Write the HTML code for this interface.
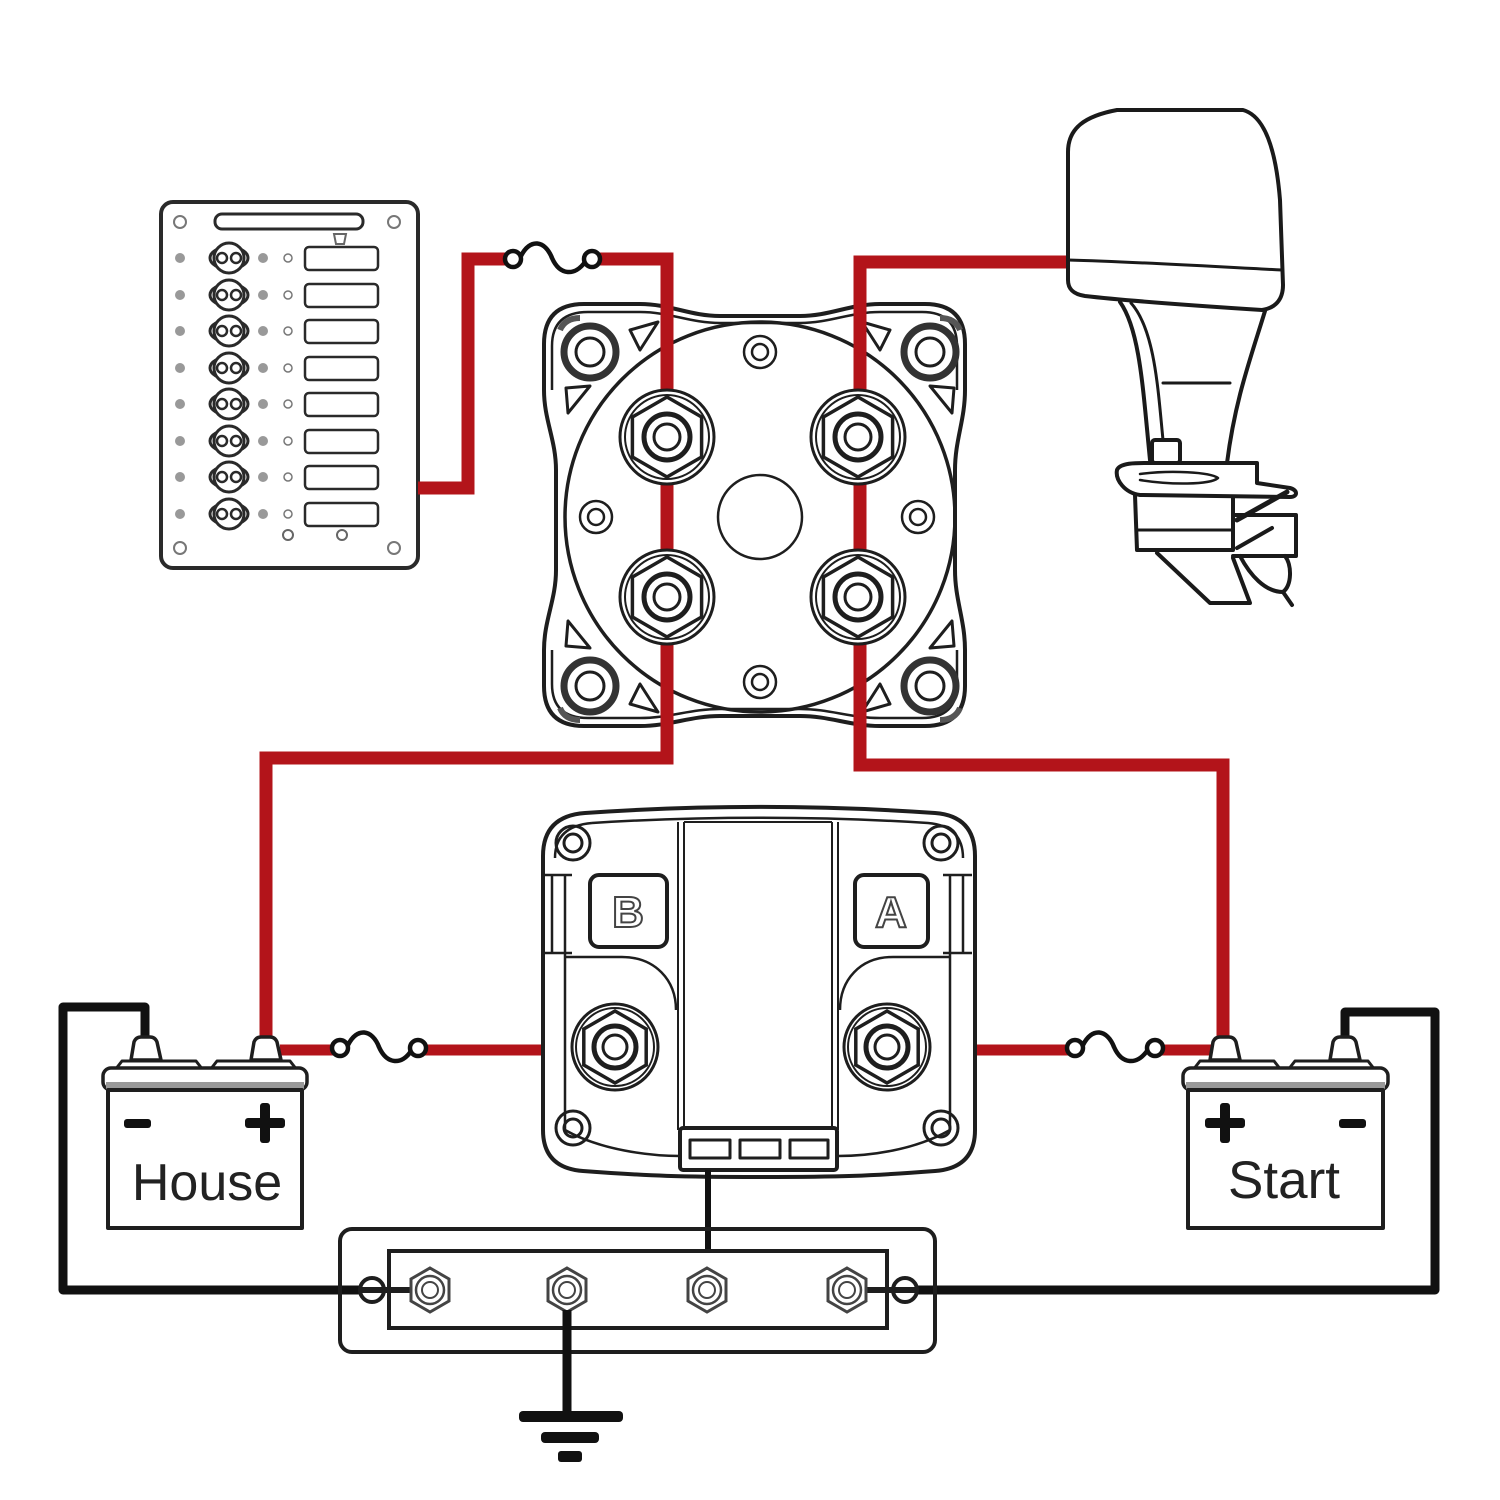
<!DOCTYPE html>
<html><head><meta charset="utf-8"><style>
html,body{margin:0;padding:0;background:#fff;width:1500px;height:1500px;overflow:hidden}
svg{display:block}
</style></head><body>
<svg width="1500" height="1500" viewBox="0 0 1500 1500" xmlns="http://www.w3.org/2000/svg">
<rect width="1500" height="1500" fill="#fff"/>

<!-- ===== Breaker panel ===== -->
<g stroke="#2a2a2a" fill="none">
<rect x="161" y="202" width="257" height="366" rx="12" stroke-width="4" fill="#fff"/>
<rect x="215" y="214" width="148" height="15" rx="7" stroke-width="3"/>
<circle cx="180" cy="222" r="6" stroke-width="2" stroke="#777"/>
<circle cx="394" cy="222" r="6" stroke-width="2" stroke="#777"/>
<circle cx="180" cy="548" r="6" stroke-width="2" stroke="#777"/>
<circle cx="394" cy="548" r="6" stroke-width="2" stroke="#777"/>
<path d="M334,234 L346,234 L344,244 L336,244 Z" stroke-width="2" stroke="#666"/>
<circle cx="288" cy="535" r="5" stroke-width="2" stroke="#666"/>
<circle cx="342" cy="535" r="5" stroke-width="2" stroke="#666"/>
</g>
<g stroke="#2a2a2a" fill="none">
<g transform="translate(0,258)"><circle cx="180" cy="0" r="5" fill="#999" stroke="none"/><ellipse cx="229" cy="0" rx="19" ry="11" stroke-width="3" fill="#fff"/><circle cx="229" cy="0" r="15" stroke-width="3" fill="#fff"/><circle cx="222" cy="0" r="5" stroke-width="2.5"/><circle cx="236" cy="0" r="5" stroke-width="2.5"/><circle cx="263" cy="0" r="5" fill="#999" stroke="none"/><circle cx="288" cy="0" r="4" stroke-width="1.5" stroke="#777"/><rect x="305" y="-11" width="73" height="23" rx="4" stroke-width="2.5"/></g>
<g transform="translate(0,295)"><circle cx="180" cy="0" r="5" fill="#999" stroke="none"/><ellipse cx="229" cy="0" rx="19" ry="11" stroke-width="3" fill="#fff"/><circle cx="229" cy="0" r="15" stroke-width="3" fill="#fff"/><circle cx="222" cy="0" r="5" stroke-width="2.5"/><circle cx="236" cy="0" r="5" stroke-width="2.5"/><circle cx="263" cy="0" r="5" fill="#999" stroke="none"/><circle cx="288" cy="0" r="4" stroke-width="1.5" stroke="#777"/><rect x="305" y="-11" width="73" height="23" rx="4" stroke-width="2.5"/></g>
<g transform="translate(0,331)"><circle cx="180" cy="0" r="5" fill="#999" stroke="none"/><ellipse cx="229" cy="0" rx="19" ry="11" stroke-width="3" fill="#fff"/><circle cx="229" cy="0" r="15" stroke-width="3" fill="#fff"/><circle cx="222" cy="0" r="5" stroke-width="2.5"/><circle cx="236" cy="0" r="5" stroke-width="2.5"/><circle cx="263" cy="0" r="5" fill="#999" stroke="none"/><circle cx="288" cy="0" r="4" stroke-width="1.5" stroke="#777"/><rect x="305" y="-11" width="73" height="23" rx="4" stroke-width="2.5"/></g>
<g transform="translate(0,368)"><circle cx="180" cy="0" r="5" fill="#999" stroke="none"/><ellipse cx="229" cy="0" rx="19" ry="11" stroke-width="3" fill="#fff"/><circle cx="229" cy="0" r="15" stroke-width="3" fill="#fff"/><circle cx="222" cy="0" r="5" stroke-width="2.5"/><circle cx="236" cy="0" r="5" stroke-width="2.5"/><circle cx="263" cy="0" r="5" fill="#999" stroke="none"/><circle cx="288" cy="0" r="4" stroke-width="1.5" stroke="#777"/><rect x="305" y="-11" width="73" height="23" rx="4" stroke-width="2.5"/></g>
<g transform="translate(0,404)"><circle cx="180" cy="0" r="5" fill="#999" stroke="none"/><ellipse cx="229" cy="0" rx="19" ry="11" stroke-width="3" fill="#fff"/><circle cx="229" cy="0" r="15" stroke-width="3" fill="#fff"/><circle cx="222" cy="0" r="5" stroke-width="2.5"/><circle cx="236" cy="0" r="5" stroke-width="2.5"/><circle cx="263" cy="0" r="5" fill="#999" stroke="none"/><circle cx="288" cy="0" r="4" stroke-width="1.5" stroke="#777"/><rect x="305" y="-11" width="73" height="23" rx="4" stroke-width="2.5"/></g>
<g transform="translate(0,441)"><circle cx="180" cy="0" r="5" fill="#999" stroke="none"/><ellipse cx="229" cy="0" rx="19" ry="11" stroke-width="3" fill="#fff"/><circle cx="229" cy="0" r="15" stroke-width="3" fill="#fff"/><circle cx="222" cy="0" r="5" stroke-width="2.5"/><circle cx="236" cy="0" r="5" stroke-width="2.5"/><circle cx="263" cy="0" r="5" fill="#999" stroke="none"/><circle cx="288" cy="0" r="4" stroke-width="1.5" stroke="#777"/><rect x="305" y="-11" width="73" height="23" rx="4" stroke-width="2.5"/></g>
<g transform="translate(0,477)"><circle cx="180" cy="0" r="5" fill="#999" stroke="none"/><ellipse cx="229" cy="0" rx="19" ry="11" stroke-width="3" fill="#fff"/><circle cx="229" cy="0" r="15" stroke-width="3" fill="#fff"/><circle cx="222" cy="0" r="5" stroke-width="2.5"/><circle cx="236" cy="0" r="5" stroke-width="2.5"/><circle cx="263" cy="0" r="5" fill="#999" stroke="none"/><circle cx="288" cy="0" r="4" stroke-width="1.5" stroke="#777"/><rect x="305" y="-11" width="73" height="23" rx="4" stroke-width="2.5"/></g>
<g transform="translate(0,514)"><circle cx="180" cy="0" r="5" fill="#999" stroke="none"/><ellipse cx="229" cy="0" rx="19" ry="11" stroke-width="3" fill="#fff"/><circle cx="229" cy="0" r="15" stroke-width="3" fill="#fff"/><circle cx="222" cy="0" r="5" stroke-width="2.5"/><circle cx="236" cy="0" r="5" stroke-width="2.5"/><circle cx="263" cy="0" r="5" fill="#999" stroke="none"/><circle cx="288" cy="0" r="4" stroke-width="1.5" stroke="#777"/><rect x="305" y="-11" width="73" height="23" rx="4" stroke-width="2.5"/></g>
</g>

<!-- ===== Battery switch body ===== -->
<g stroke="#1e1e1e" fill="none" stroke-linejoin="round">
<path d="M584,304 L640,304 C670,304 690,316 720,316 L800,316 C830,316 850,304 880,304 L925,304 Q965,304 965,344 L965,390 C965,420 955,440 955,470 L955,570 C955,600 965,620 965,650 L965,686 Q965,726 925,726 L880,726 C850,726 830,716 800,716 L720,716 C690,716 670,726 640,726 L584,726 Q544,726 544,686 L544,650 C544,620 556,600 556,570 L556,470 C556,440 544,420 544,390 L544,344 Q544,304 584,304 Z" stroke-width="4" fill="#fff"/>
<path d="M588,312 L640,312 C670,312 690,323 720,323 L800,323 C830,323 850,312 880,312 L922,312 Q957,312 957,346 L957,390" stroke-width="2.5"/>
<path d="M552,390 L552,346 Q552,312 588,312" stroke-width="2.5"/>
<path d="M588,718 L640,718 C670,718 690,709 720,709 L800,709 C830,709 850,718 880,718 L922,718 Q957,718 957,684 L957,650" stroke-width="2.5"/>
<path d="M552,650 L552,684 Q552,718 588,718" stroke-width="2.5"/>
<circle cx="760" cy="517" r="195" stroke-width="3.5"/>
<path d="M630,330 L658,322 L640,350 Z" stroke-width="3"/>
<path d="M566,388 L590,386 L568,413 Z" stroke-width="3"/>
<path d="M890,330 L862,322 L880,350 Z" stroke-width="3"/>
<path d="M954,388 L930,386 L952,413 Z" stroke-width="3"/>
<path d="M630,704 L658,712 L640,684 Z" stroke-width="3"/>
<path d="M566,646 L590,648 L568,621 Z" stroke-width="3"/>
<path d="M890,704 L862,712 L880,684 Z" stroke-width="3"/>
<path d="M954,646 L930,648 L952,621 Z" stroke-width="3"/>
<g stroke-width="7" stroke="#333"><circle cx="590" cy="352" r="26"/><circle cx="930" cy="352" r="26"/><circle cx="590" cy="686" r="26"/><circle cx="930" cy="686" r="26"/></g>
<g stroke-width="2" stroke="#fff"><circle cx="590" cy="352" r="21"/><circle cx="930" cy="352" r="21"/><circle cx="590" cy="686" r="21"/><circle cx="930" cy="686" r="21"/></g>
<g stroke-width="3"><circle cx="590" cy="352" r="14"/><circle cx="930" cy="352" r="14"/><circle cx="590" cy="686" r="14"/><circle cx="930" cy="686" r="14"/></g>
<g stroke="#555" stroke-width="6"><path d="M560,330 Q565,318 580,318"/><path d="M960,330 Q955,318 940,318"/><path d="M560,708 Q565,720 580,720"/><path d="M960,708 Q955,720 940,720"/></g>
<g stroke-width="2.5"><circle cx="760" cy="352" r="16"/><circle cx="760" cy="682" r="16"/><circle cx="596" cy="517" r="16"/><circle cx="918" cy="517" r="16"/></g>
<g stroke-width="2.5"><circle cx="760" cy="352" r="8"/><circle cx="760" cy="682" r="8"/><circle cx="596" cy="517" r="8"/><circle cx="918" cy="517" r="8"/></g>
<circle cx="760" cy="517" r="42" stroke-width="2.5"/>
</g>

<!-- ===== Red wires ===== -->
<g stroke="#b3141a" fill="none" stroke-width="13" stroke-linejoin="miter">
<path d="M418,488 L468,488 L468,259 L506,259"/>
<path d="M599,259 L667,259 L667,758 L266,758 L266,1040"/>
<path d="M1068,262 L860,262 L860,765 L1223,765 L1223,1040"/>
</g>
<g stroke="#b3141a" fill="none" stroke-width="11">
<path d="M280,1050 L333,1050"/>
<path d="M425,1050 L590,1050"/>
<path d="M930,1050 L1068,1050"/>
<path d="M1162,1050 L1218,1050"/>
</g>

<g stroke="#1e1e1e" fill="#fff">
<g transform="translate(667,437)"><circle r="47" stroke-width="3"/><circle r="42" stroke-width="2" fill="none"/><polygon points="0,-40 34.6,-20 34.6,20 0,40 -34.6,20 -34.6,-20" stroke-width="3.5"/><circle r="23" stroke-width="5"/><circle r="13" stroke-width="3"/></g>
<g transform="translate(858,437)"><circle r="47" stroke-width="3"/><circle r="42" stroke-width="2" fill="none"/><polygon points="0,-40 34.6,-20 34.6,20 0,40 -34.6,20 -34.6,-20" stroke-width="3.5"/><circle r="23" stroke-width="5"/><circle r="13" stroke-width="3"/></g>
<g transform="translate(667,597)"><circle r="47" stroke-width="3"/><circle r="42" stroke-width="2" fill="none"/><polygon points="0,-40 34.6,-20 34.6,20 0,40 -34.6,20 -34.6,-20" stroke-width="3.5"/><circle r="23" stroke-width="5"/><circle r="13" stroke-width="3"/></g>
<g transform="translate(858,597)"><circle r="47" stroke-width="3"/><circle r="42" stroke-width="2" fill="none"/><polygon points="0,-40 34.6,-20 34.6,20 0,40 -34.6,20 -34.6,-20" stroke-width="3.5"/><circle r="23" stroke-width="5"/><circle r="13" stroke-width="3"/></g>
</g>

<!-- ===== Fuses ===== -->
<g stroke="#111" fill="#fff" stroke-width="4.5">
<circle cx="513" cy="259" r="8"/><circle cx="592" cy="259" r="8"/>
<path d="M521,256 C530,238 545,240 552,258 C560,276 575,276 585,262" fill="none"/>
<circle cx="340" cy="1048" r="8"/><circle cx="418" cy="1048" r="8"/>
<path d="M348,1045 C357,1027 372,1029 379,1047 C387,1065 402,1065 411,1051" fill="none"/>
<circle cx="1075" cy="1048" r="8"/><circle cx="1155" cy="1048" r="8"/>
<path d="M1083,1045 C1092,1027 1107,1029 1114,1047 C1122,1065 1137,1065 1147,1051" fill="none"/>
</g>

<!-- ===== Outboard motor ===== -->
<g stroke="#1a1a1a" fill="none" stroke-width="4" stroke-linejoin="round" stroke-linecap="round">
<path d="M1068,152 C1068,128 1085,116 1117,110 L1243,110 C1265,116 1276,150 1280,200 L1283,285 C1283,300 1275,308 1262,310 C1200,306 1120,300 1085,296 C1072,294 1068,288 1068,280 Z" fill="#fff"/>
<path d="M1068,260 C1140,262 1220,267 1282,270" stroke-width="3"/>
<path d="M1120,302 C1140,330 1143,390 1150,460"/>
<path d="M1131,303 C1155,330 1158,390 1163,440" stroke-width="3"/>
<path d="M1265,311 C1250,360 1235,400 1227,463"/>
<path d="M1163,383 L1230,383" stroke-width="3"/>
<rect x="1152" y="440" width="28" height="23" rx="3"/>
<path d="M1117,470 C1120,462 1140,463 1150,463 L1257,463 L1257,483 L1290,488 C1298,490 1298,497 1290,497 L1140,495 C1125,493 1115,480 1117,470 Z"/>
<path d="M1140,474 C1170,470 1210,472 1218,478 C1210,485 1170,485 1140,480" stroke-width="2.5"/>
<path d="M1135,495 L1137,550 L1233,550 L1233,497"/>
<path d="M1137,530 L1233,530" stroke-width="3"/>
<path d="M1157,553 L1210,603 L1250,603 L1233,558"/>
<path d="M1233,515 L1296,515 L1296,556 L1233,556"/>
<path d="M1237,520 L1287,492" stroke-width="5"/>
<path d="M1237,548 L1272,528"/>
<path d="M1240,556 C1250,575 1265,592 1283,592 C1292,585 1292,565 1285,556"/>
<path d="M1283,592 L1292,605"/>
</g>

<!-- ===== ACR (B/A) ===== -->
<g stroke="#1e1e1e" fill="none" stroke-linejoin="round">
<path d="M585,813 C700,805 820,805 935,813 Q975,816 975,856 L975,1130 Q975,1168 935,1171 C870,1176 840,1177 760,1177 C680,1177 650,1176 583,1171 Q543,1168 543,1130 L543,856 Q543,816 585,813 Z" stroke-width="4" fill="#fff"/>
<path d="M592,823 C700,816 820,816 928,823 Q963,826 963,858" stroke-width="2.5"/>
<path d="M555,858 Q555,826 592,823" stroke-width="2.5"/>
<path d="M678,822 L678,1130 M684,822 L684,1130 M832,822 L832,1130 M838,822 L838,1130" stroke-width="2"/>
<path d="M684,822 L832,822" stroke-width="2"/>
<path d="M552,875 L552,953 M565,875 L565,1130 M543,875 L572,875 M543,953 L572,953" stroke-width="2.5"/>
<path d="M963,875 L963,953 M950,875 L950,1130 M972,875 L943,875 M972,953 L943,953" stroke-width="2.5"/>
<path d="M565,957 L622,957 C655,957 676,980 676,1010" stroke-width="2.5"/>
<path d="M950,957 L893,957 C860,957 840,980 840,1010" stroke-width="2.5"/>
<path d="M565,1130 C600,1150 650,1156 680,1156 M838,1156 C870,1156 915,1150 950,1130" stroke-width="2.5"/>
<g stroke-width="3"><circle cx="573" cy="843" r="17"/><circle cx="941" cy="843" r="17"/><circle cx="573" cy="1128" r="17"/><circle cx="941" cy="1128" r="17"/></g>
<g stroke-width="3"><circle cx="573" cy="843" r="9"/><circle cx="941" cy="843" r="9"/><circle cx="573" cy="1128" r="9"/><circle cx="941" cy="1128" r="9"/></g>
<rect x="590" y="875" width="77" height="72" rx="9" stroke-width="4" fill="#fff"/>
<rect x="855" y="875" width="73" height="72" rx="9" stroke-width="4" fill="#fff"/>
<rect x="680" y="1128" width="157" height="42" rx="3" stroke-width="4" fill="#fff"/>
<rect x="690" y="1140" width="40" height="18" stroke-width="3"/>
<rect x="740" y="1140" width="40" height="18" stroke-width="3"/>
<rect x="790" y="1140" width="38" height="18" stroke-width="3"/>
</g>
<text x="628" y="927" text-anchor="middle" font-family="Liberation Sans, sans-serif" font-weight="bold" font-size="44" fill="#fff" stroke="#444" stroke-width="2">B</text>
<text x="891" y="927" text-anchor="middle" font-family="Liberation Sans, sans-serif" font-weight="bold" font-size="44" fill="#fff" stroke="#444" stroke-width="2">A</text>
<g stroke="#1e1e1e" fill="#fff">
<g transform="translate(615,1047)"><circle r="43" stroke-width="3"/><circle r="39" stroke-width="2" fill="none"/><polygon points="0,-36 31.2,-18 31.2,18 0,36 -31.2,18 -31.2,-18" stroke-width="3.5"/><circle r="21" stroke-width="5"/><circle r="12" stroke-width="3"/></g>
<g transform="translate(887,1047)"><circle r="43" stroke-width="3"/><circle r="39" stroke-width="2" fill="none"/><polygon points="0,-36 31.2,-18 31.2,18 0,36 -31.2,18 -31.2,-18" stroke-width="3.5"/><circle r="21" stroke-width="5"/><circle r="12" stroke-width="3"/></g>
</g>

<!-- ===== Black wires ===== -->
<g stroke="#111" fill="none" stroke-width="9" stroke-linejoin="round">
<path d="M145,1040 L145,1007 L63,1007 L63,1290 L372,1290"/>
<path d="M1345,1040 L1345,1012 L1435,1012 L1435,1290 L905,1290"/>
<path d="M708,1170 L708,1275" stroke-width="6"/>
</g>

<!-- ===== Busbar ===== -->
<g stroke="#1e1e1e" fill="none">
<rect x="340" y="1229" width="595" height="123" rx="12" stroke-width="4"/>
<rect x="389" y="1251" width="498" height="77" stroke-width="4" fill="#fff"/>
<circle cx="372" cy="1290" r="12" stroke-width="4" fill="#fff"/>
<circle cx="905" cy="1290" r="12" stroke-width="4" fill="#fff"/>
<path d="M362,1290 L410,1290 M865,1290 L915,1290" stroke-width="6"/>
<g stroke="#444">
<g transform="translate(430,1290)"><polygon points="0,-22 19,-11 19,11 0,22 -19,11 -19,-11" stroke-width="3" fill="#fff"/><circle r="14" stroke-width="2.5"/><circle r="8" stroke-width="2"/></g>
<g transform="translate(567,1290)"><polygon points="0,-22 19,-11 19,11 0,22 -19,11 -19,-11" stroke-width="3" fill="#fff"/><circle r="14" stroke-width="2.5"/><circle r="8" stroke-width="2"/></g>
<g transform="translate(707,1290)"><polygon points="0,-22 19,-11 19,11 0,22 -19,11 -19,-11" stroke-width="3" fill="#fff"/><circle r="14" stroke-width="2.5"/><circle r="8" stroke-width="2"/></g>
<g transform="translate(847,1290)"><polygon points="0,-22 19,-11 19,11 0,22 -19,11 -19,-11" stroke-width="3" fill="#fff"/><circle r="14" stroke-width="2.5"/><circle r="8" stroke-width="2"/></g>
</g>
</g>
<path d="M567,1310 L567,1415" stroke="#111" stroke-width="9"/>
<g fill="#111">
<rect x="519" y="1411" width="104" height="11" rx="4"/>
<rect x="541" y="1432" width="58" height="11" rx="4"/>
<rect x="558" y="1451" width="24" height="11" rx="3"/>
</g>

<!-- ===== House battery ===== -->
<g stroke="#1e1e1e" fill="#fff" stroke-linejoin="round">
<path d="M131,1060 L134,1042 Q136,1037 141,1037 L150,1037 Q155,1037 157,1042 L161,1060 Z" stroke-width="3.5"/>
<path d="M251,1060 L254,1042 Q256,1037 261,1037 L270,1037 Q275,1037 277,1042 L281,1060 Z" stroke-width="3.5"/>
<path d="M115,1070 L122,1061 L196,1061 L203,1070 Z M210,1070 L217,1061 L290,1061 L297,1070 Z" stroke-width="3"/>
<rect x="103" y="1068" width="204" height="22" rx="8" stroke-width="3.5"/>
<rect x="106" y="1082" width="198" height="8" fill="#999" stroke="none"/>
<rect x="108" y="1090" width="194" height="138" stroke-width="4"/>
</g>
<g fill="#111">
<rect x="124" y="1119" width="27" height="9" rx="3"/>
<rect x="245" y="1118" width="40" height="10" rx="3"/>
<rect x="260" y="1103" width="10" height="40" rx="3"/>
</g>
<text x="207" y="1200" text-anchor="middle" font-family="Liberation Sans, DejaVu Sans, sans-serif" font-size="52" fill="#222">House</text>

<!-- ===== Start battery ===== -->
<g stroke="#1e1e1e" fill="#fff" stroke-linejoin="round">
<path d="M1210,1060 L1213,1042 Q1215,1037 1220,1037 L1229,1037 Q1234,1037 1236,1042 L1240,1060 Z" stroke-width="3.5"/>
<path d="M1330,1060 L1333,1042 Q1335,1037 1340,1037 L1349,1037 Q1354,1037 1356,1042 L1360,1060 Z" stroke-width="3.5"/>
<path d="M1193,1070 L1200,1061 L1274,1061 L1281,1070 Z M1288,1070 L1295,1061 L1368,1061 L1375,1070 Z" stroke-width="3"/>
<rect x="1183" y="1068" width="205" height="22" rx="8" stroke-width="3.5"/>
<rect x="1186" y="1082" width="199" height="8" fill="#999" stroke="none"/>
<rect x="1188" y="1090" width="195" height="138" stroke-width="4"/>
</g>
<g fill="#111">
<rect x="1205" y="1118" width="40" height="10" rx="3"/>
<rect x="1220" y="1103" width="10" height="40" rx="3"/>
<rect x="1339" y="1119" width="27" height="9" rx="3"/>
</g>
<text x="1284" y="1198" text-anchor="middle" font-family="Liberation Sans, DejaVu Sans, sans-serif" font-size="53" fill="#222">Start</text>

</svg>
</body></html>
